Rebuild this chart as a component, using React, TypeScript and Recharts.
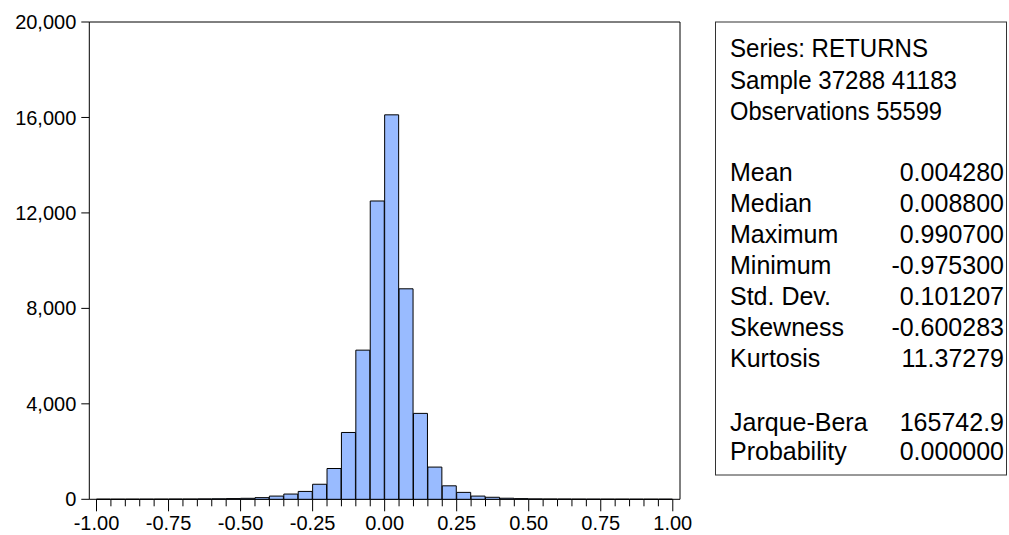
import React from "react";
import { BarChart, Bar, XAxis, YAxis, ReferenceArea } from "recharts";

// histogram bins, width 0.05, centres from -0.975 to 0.975
const binMid = [
  -0.975, -0.925, -0.875, -0.825, -0.775, -0.725, -0.675, -0.625, -0.575, -0.525,
  -0.475, -0.425, -0.375, -0.325, -0.275, -0.225, -0.175, -0.125, -0.075, -0.025,
  0.025, 0.075, 0.125, 0.175, 0.225, 0.275, 0.325, 0.375, 0.425, 0.475,
  0.525, 0.575, 0.625, 0.675, 0.725, 0.775, 0.825, 0.875, 0.925, 0.975,
];

const binCount = [
  3, 2, 3, 4, 5, 8, 8, 15, 20, 30,
  42, 70, 135, 220, 330, 630, 1290, 2800, 6250, 12500,
  16110, 8820, 3600, 1350, 565, 290, 135, 85, 45, 28,
  15, 10, 8, 5, 4, 3, 3, 2, 2, 2,
];

const xTicks = [
  -1.0, -0.95, -0.9, -0.85, -0.8, -0.75, -0.7, -0.65, -0.6, -0.55,
  -0.5, -0.45, -0.4, -0.35, -0.3, -0.25, -0.2, -0.15, -0.1, -0.05,
  0, 0.05, 0.1, 0.15, 0.2, 0.25, 0.3, 0.35, 0.4, 0.45,
  0.5, 0.55, 0.6, 0.65, 0.7, 0.75, 0.8, 0.85, 0.9, 0.95, 1.0,
];
const yTicks = [0, 4000, 8000, 12000, 16000, 20000];

const headerLines = ["Series: RETURNS", "Sample 37288 41183", "Observations 55599"];
const statLabels = ["Mean", "Median", "Maximum", "Minimum", "Std. Dev.", "Skewness", "Kurtosis"];
const statValues = ["0.004280", "0.008800", "0.990700", "-0.975300", "0.101207", "-0.600283", "11.37279"];
const testLabels = ["Jarque-Bera", "Probability"];
const testValues = ["165742.9", "0.000000"];

const FONT = "Arial, 'Liberation Sans', sans-serif";
const W = 1009;
const H = 535;
const X_AXIS_H = 35.7;
const AXIS_Y = H - X_AXIS_H;

const data = binMid.map((mid, i) => ({ mid, count: binCount[i] }));

// ticks every 0.05, labelled every 0.25
const XTick = (props: any) => {
  const { x, payload } = props;
  const v = payload.value as number;
  const major = Math.abs(v * 4 - Math.round(v * 4)) < 1e-6;
  return (
    <g>
      <line x1={x} x2={x} y1={AXIS_Y} y2={AXIS_Y + (major ? 12 : 7)} stroke="#000" />
      {major && (
        <text x={x} y={AXIS_Y + 31} textAnchor="middle" fontSize={20} fontFamily={FONT} fill="#000">
          {v.toFixed(2)}
        </text>
      )}
    </g>
  );
};

// widths of the header lines, which are set a little tighter
const headerWidths = [198, 227, 212];

const StatsBox = () => {
  const lx = 730;
  const rx = 1004;
  const txt = { fontSize: 25, fontFamily: FONT, fill: "#000" };
  return (
    <svg width={W} height={H} style={{ position: "absolute", left: 0, top: 0 }}>
      <rect x={715.5} y={22} width={291} height={453} fill="none" stroke="#333" />
      {headerLines.map((s, i) => (
        <text
          key={s}
          x={lx}
          y={57 + i * 31.5}
          textLength={headerWidths[i]}
          lengthAdjust="spacingAndGlyphs"
          {...txt}
        >
          {s}
        </text>
      ))}
      {statLabels.map((s, i) => (
        <g key={s}>
          <text x={lx} y={181 + i * 31} {...txt}>
            {s}
          </text>
          <text x={rx} y={181 + i * 31} textAnchor="end" {...txt}>
            {statValues[i]}
          </text>
        </g>
      ))}
      {testLabels.map((s, i) => (
        <g key={s}>
          <text x={lx} y={431 + i * 28.5} {...txt}>
            {s}
          </text>
          <text x={rx} y={431 + i * 28.5} textAnchor="end" {...txt}>
            {testValues[i]}
          </text>
        </g>
      ))}
    </svg>
  );
};

export default function App() {
  return (
    <div style={{ position: "absolute", left: 0, top: 0, width: W, height: H, background: "#fff" }}>
      <BarChart
        width={W}
        height={H}
        data={data}
        margin={{ top: 22, right: 329, bottom: 0, left: 0 }}
        barCategoryGap={0}
        barGap={0}
      >
        <XAxis xAxisId="bin" dataKey="mid" type="category" hide padding={{ left: 7.2, right: 7.2 }} />
        <XAxis
          xAxisId="val"
          dataKey="mid"
          type="number"
          domain={[-1.025, 1.025]}
          allowDataOverflow
          ticks={xTicks}
          interval={0}
          tick={<XTick />}
          tickLine={false}
          axisLine={false}
          tickSize={0}
          tickMargin={0}
          height={X_AXIS_H}
        />
        <YAxis
          domain={[0, 20000]}
          ticks={yTicks}
          interval={0}
          width={89.3}
          axisLine={false}
          tickLine={{ stroke: "#000" }}
          tickSize={8}
          tickMargin={5}
          tick={{ fill: "#000", fontSize: 20, fontFamily: FONT }}
          tickFormatter={(v: number) => v.toLocaleString("en-US")}
        />
        <Bar
          xAxisId="bin"
          dataKey="count"
          fill="#99BBFF"
          stroke="#000"
          strokeWidth={1}
          isAnimationActive={false}
        />
        <ReferenceArea
          xAxisId="val"
          x1={-1.025}
          x2={1.025}
          y1={0}
          y2={20000}
          fill="none"
          stroke="#000"
          strokeWidth={1}
          ifOverflow="visible"
        />
      </BarChart>
      <StatsBox />
    </div>
  );
}
